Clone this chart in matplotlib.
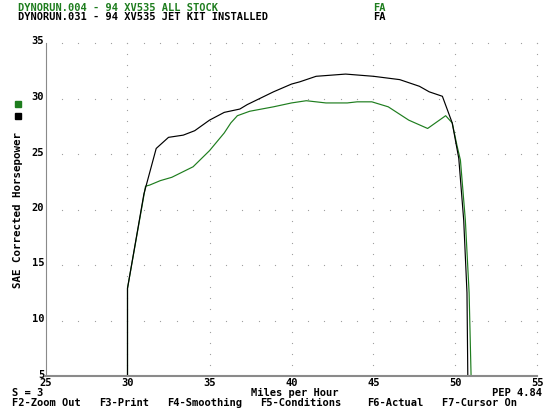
import numpy as np
import matplotlib
matplotlib.use("Agg")
import matplotlib.pyplot as plt
import matplotlib.transforms as mtransforms
from matplotlib.patches import Rectangle

# stock run (green) and jet kit run (black), mph vs SAE hp
stock_mph = [30.0, 30.0, 31.1, 31.35, 32.0, 32.7, 34.0, 35.0, 35.9, 36.3, 36.7, 37.45, 38.9, 40.0,
             40.9, 42.1, 43.4, 44.0, 44.9, 45.9, 47.15, 48.3, 49.4, 49.8, 50.1, 50.3, 50.6, 50.83, 50.95]
stock_hp = [5.0, 12.9, 22.1, 22.2, 22.6, 22.9, 23.85, 25.3, 26.9, 27.8, 28.45, 28.85, 29.25, 29.6,
            29.8, 29.6, 29.6, 29.7, 29.7, 29.25, 28.05, 27.3, 28.45, 27.8, 25.7, 24.45, 19.05, 12.5, 5.0]

jet_mph = [30.0, 30.0, 31.0, 31.75, 32.5, 33.4, 34.1, 35.0, 35.9, 36.85, 37.3, 38.9, 40.0, 40.5,
           41.5, 43.3, 45.0, 46.6, 47.8, 48.4, 49.2, 49.8, 50.2, 50.5, 50.7, 50.75]
jet_hp = [5.0, 12.9, 21.4, 25.5, 26.5, 26.7, 27.1, 28.05, 28.75, 29.05, 29.45, 30.6, 31.3, 31.5,
          32.0, 32.2, 32.0, 31.7, 31.1, 30.6, 30.2, 27.8, 24.6, 19.05, 12.5, 5.0]

x_ticks = [25, 30, 35, 40, 45, 50, 55]
y_ticks = [5, 10, 15, 20, 25, 30, 35]

GREEN = "#1e7d1e"
MONO = "DejaVu Sans Mono"

W, H = 544, 409
fig = plt.figure(figsize=(W / 100, H / 100), dpi=100)
ax = fig.add_axes([45.5 / W, 1 - 376 / H, 492 / W, 333 / H])

def px(x, y):
    return x / W, 1 - y / H

# dotted grid: dots every 1 unit along the 5-unit lines
for gx in range(30, 56, 5):
    ys = np.arange(6, 36, 1)
    ax.plot([gx] * len(ys), ys, ls="none", marker="s", ms=0.8, mfc="#a0a0a0", mec="none", clip_on=False)
for gy in range(10, 36, 5):
    xs = np.arange(26, 56, 1)
    ax.plot(xs, [gy] * len(xs), ls="none", marker="s", ms=0.8, mfc="#a0a0a0", mec="none", clip_on=False)

ax.plot(stock_mph, stock_hp, color=GREEN, lw=0.85)
ax.plot(jet_mph, jet_hp, color="black", lw=0.85)

ax.set_xlim(25, 55)
ax.set_ylim(5, 35)
ax.set_xticks(x_ticks)
ax.set_yticks(y_ticks)
ax.tick_params(axis="x", length=0, pad=1.5, labelsize=7.5)
ax.tick_params(axis="y", length=0, pad=1, labelsize=7.5)
lift = mtransforms.ScaledTranslation(0, 0.025, fig.dpi_scale_trans)
for lab in ax.get_xticklabels() + ax.get_yticklabels():
    lab.set_family(MONO)
    lab.set_fontweight("bold")
for lab in ax.get_yticklabels():
    lab.set_transform(lab.get_transform() + lift)
for s in ["top", "right"]:
    ax.spines[s].set_visible(False)
ax.spines["left"].set_color("#8a8a8a")
ax.spines["bottom"].set_color("#8a8a8a")
ax.spines["bottom"].set_linewidth(1.5)

# header
hdr = dict(family=MONO, weight="bold", fontsize=7.5, va="baseline")
fig.text(*px(18, 11), "DYNORUN.004 - 94 XV535 ALL STOCK", color=GREEN, **hdr)
fig.text(*px(373, 11), "FA", color=GREEN, **hdr)
fig.text(*px(18, 20), "DYNORUN.031 - 94 XV535 JET KIT INSTALLED", color="black", **hdr)
fig.text(*px(373, 20), "FA", color="black", **hdr)

# y label and legend squares
fig.text(*px(18, 210), "SAE Corrected Horsepower", rotation=90, family=MONO, weight="bold",
         fontsize=7.8, ha="center", va="center")
fig.patches.append(Rectangle(px(15, 107), 6 / W, 6 / H, transform=fig.transFigure, color=GREEN))
fig.patches.append(Rectangle(px(15, 119), 6 / W, 6 / H, transform=fig.transFigure, color="black"))

# bottom status lines
bot = dict(family=MONO, weight="bold", fontsize=7.5, va="baseline")
fig.text(*px(12, 396), "S = 3", **bot)
fig.text(*px(295, 396), "Miles per Hour", ha="center", **bot)
fig.text(*px(492, 396), "PEP 4.84", **bot)
keys = [(12, "F2-Zoom Out"), (99, "F3-Print"), (167, "F4-Smoothing"),
        (260, "F5-Conditions"), (367, "F6-Actual"), (442, "F7-Cursor On")]
for kx, kt in keys:
    fig.text(*px(kx, 406.5), kt, **bot)

fig.savefig("out.png", dpi=100)
